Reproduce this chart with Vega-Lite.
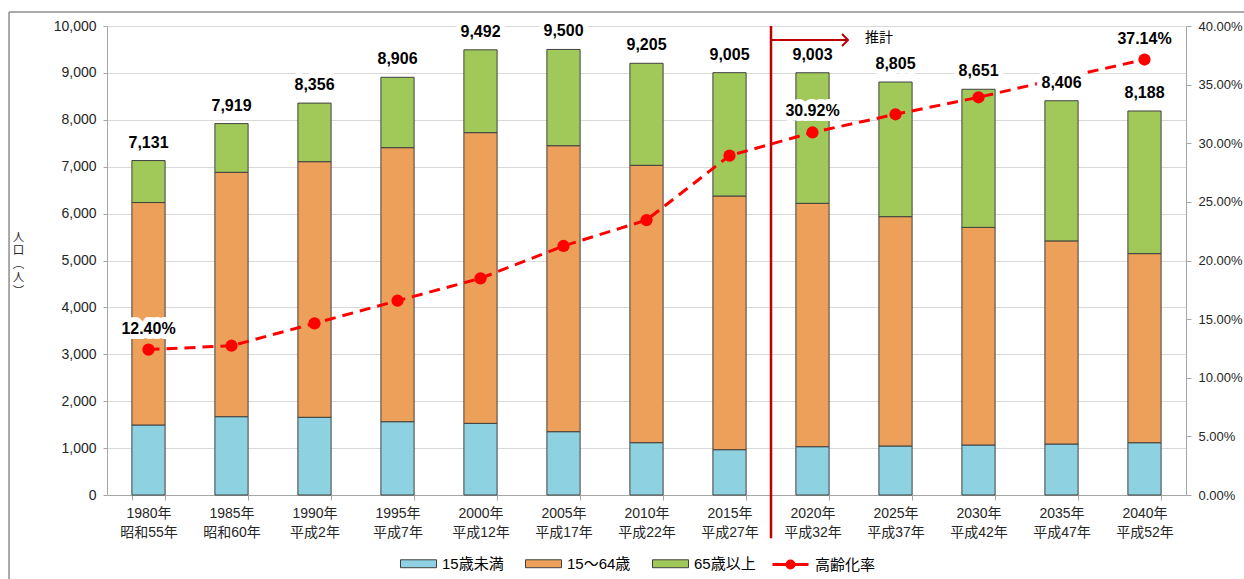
{
  "$schema": "https://vega.github.io/schema/vega-lite/v6.json",
  "width": 1079,
  "height": 469,
  "autosize": {"type": "none"},
  "padding": {"left": 107, "top": 26, "right": 58, "bottom": 84},
  "background": "white",
  "config": {
    "view": {"stroke": null},
    "font": "Liberation Sans, Noto Sans CJK JP",
    "axis": {"labelColor": "#262626", "labelFont": "Liberation Sans, Noto Sans CJK JP", "titleFont": "Noto Sans CJK JP"},
    "legend": {"labelFont": "Liberation Sans, Noto Sans CJK JP"}
  },
  "datasets": {
    "bars": [
      {"year": "1980年|昭和55年", "cat": "15歳未満", "value": 1493},
      {"year": "1980年|昭和55年", "cat": "15～64歳", "value": 4743},
      {"year": "1980年|昭和55年", "cat": "65歳以上", "value": 895},
      {"year": "1985年|昭和60年", "cat": "15歳未満", "value": 1670},
      {"year": "1985年|昭和60年", "cat": "15～64歳", "value": 5210},
      {"year": "1985年|昭和60年", "cat": "65歳以上", "value": 1039},
      {"year": "1990年|平成2年", "cat": "15歳未満", "value": 1657},
      {"year": "1990年|平成2年", "cat": "15～64歳", "value": 5450},
      {"year": "1990年|平成2年", "cat": "65歳以上", "value": 1249},
      {"year": "1995年|平成7年", "cat": "15歳未満", "value": 1563},
      {"year": "1995年|平成7年", "cat": "15～64歳", "value": 5843},
      {"year": "1995年|平成7年", "cat": "65歳以上", "value": 1500},
      {"year": "2000年|平成12年", "cat": "15歳未満", "value": 1528},
      {"year": "2000年|平成12年", "cat": "15～64歳", "value": 6198},
      {"year": "2000年|平成12年", "cat": "65歳以上", "value": 1766},
      {"year": "2005年|平成17年", "cat": "15歳未満", "value": 1350},
      {"year": "2005年|平成17年", "cat": "15～64歳", "value": 6098},
      {"year": "2005年|平成17年", "cat": "65歳以上", "value": 2052},
      {"year": "2010年|平成22年", "cat": "15歳未満", "value": 1116},
      {"year": "2010年|平成22年", "cat": "15～64歳", "value": 5914},
      {"year": "2010年|平成22年", "cat": "65歳以上", "value": 2175},
      {"year": "2015年|平成27年", "cat": "15歳未満", "value": 966},
      {"year": "2015年|平成27年", "cat": "15～64歳", "value": 5409},
      {"year": "2015年|平成27年", "cat": "65歳以上", "value": 2630},
      {"year": "2020年|平成32年", "cat": "15歳未満", "value": 1030},
      {"year": "2020年|平成32年", "cat": "15～64歳", "value": 5189},
      {"year": "2020年|平成32年", "cat": "65歳以上", "value": 2784},
      {"year": "2025年|平成37年", "cat": "15歳未満", "value": 1045},
      {"year": "2025年|平成37年", "cat": "15～64歳", "value": 4890},
      {"year": "2025年|平成37年", "cat": "65歳以上", "value": 2870},
      {"year": "2030年|平成42年", "cat": "15歳未満", "value": 1066},
      {"year": "2030年|平成42年", "cat": "15～64歳", "value": 4640},
      {"year": "2030年|平成42年", "cat": "65歳以上", "value": 2945},
      {"year": "2035年|平成47年", "cat": "15歳未満", "value": 1087},
      {"year": "2035年|平成47年", "cat": "15～64歳", "value": 4331},
      {"year": "2035年|平成47年", "cat": "65歳以上", "value": 2988},
      {"year": "2040年|平成52年", "cat": "15歳未満", "value": 1115},
      {"year": "2040年|平成52年", "cat": "15～64歳", "value": 4032},
      {"year": "2040年|平成52年", "cat": "65歳以上", "value": 3041}
    ],
    "rates": [
      {"year": "1980年|昭和55年", "total": 7131, "rate": 0.124, "labeled": true},
      {"year": "1985年|昭和60年", "total": 7919, "rate": 0.1273, "labeled": false},
      {"year": "1990年|平成2年", "total": 8356, "rate": 0.1464, "labeled": false},
      {"year": "1995年|平成7年", "total": 8906, "rate": 0.1657, "labeled": false},
      {"year": "2000年|平成12年", "total": 9492, "rate": 0.1848, "labeled": false},
      {"year": "2005年|平成17年", "total": 9500, "rate": 0.2124, "labeled": false},
      {"year": "2010年|平成22年", "total": 9205, "rate": 0.2345, "labeled": false},
      {"year": "2015年|平成27年", "total": 9005, "rate": 0.2894, "labeled": false},
      {"year": "2020年|平成32年", "total": 9003, "rate": 0.3092, "labeled": true},
      {"year": "2025年|平成37年", "total": 8805, "rate": 0.3247, "labeled": false},
      {"year": "2030年|平成42年", "total": 8651, "rate": 0.3392, "labeled": false},
      {"year": "2035年|平成47年", "total": 8406, "rate": 0.3555, "labeled": false},
      {"year": "2040年|平成52年", "total": 8188, "rate": 0.3714, "labeled": true}
    ]
  },
  "resolve": {"scale": {"y": "independent"}},
  "layer": [
    {
      "layer": [
        {
          "data": {"name": "bars"},
          "mark": {"type": "bar", "stroke": "#404040", "strokeWidth": 1},
          "encoding": {
            "x": {
              "field": "year", "type": "ordinal",
              "scale": {"paddingInner": 0.6, "paddingOuter": 0.3},
              "axis": {
                "title": null, "labelAngle": 0, "labelExpr": "datum.label ? split(datum.label, '|') : ''",
                "labelFontSize": 14, "labelLineHeight": 19, "labelPadding": 6,
                "tickBand": "extent", "tickSize": 5, "tickColor": "#A6A6A6", "domainColor": "#A6A6A6"
              }
            },
            "y": {
              "field": "value", "type": "quantitative",
              "scale": {"domain": [0, 10000], "nice": false},
              "axis": {
                "orient": "left", "tickCount": 10, "format": ",", "labelExpr": "format(datum.value, ',')",
                "title": ["人", "口", "︵", "人", "︶"], "titleAngle": 0, "titleFontSize": 11.5,
                "titleLineHeight": 13.5, "titleFontWeight": "normal", "titleAlign": "center", "titleBaseline": "middle",
                "titleX": -89, "titleY": 211, "titleColor": "#262626",
                "labelFontSize": 14, "labelPadding": 7, "tickSize": 4,
                "tickColor": "#A6A6A6", "domainColor": "#A6A6A6", "gridColor": "#D9D9D9", "grid": true
              }
            },
            "order": {"field": "cat", "type": "nominal", "sort": "ascending"},
            "color": {
              "field": "cat", "type": "nominal",
              "scale": {
                "domain": ["15歳未満", "15～64歳", "65歳以上"],
                "range": ["#8ED1E0", "#ECA05A", "#A0C95A"]
              },
              "legend": {
                "orient": "none", "legendX": 293, "legendY": 519, "direction": "horizontal",
                "title": null, "symbolSize": 1296, "symbolType": "M-1,-0.22H1V0.22H-1Z",
                "symbolStrokeColor": "#404040", "symbolStrokeWidth": 1,
                "labelFontSize": 15, "labelColor": "#000000",
                "columnPadding": 19, "labelOffset": 5
              }
            }
          }
        },
        {
          "data": {"values": [{}]},
          "mark": {"type": "rule", "stroke": "#C00000", "strokeWidth": 2.5},
          "encoding": {
            "x": {"datum": "2020年|平成32年", "type": "ordinal", "bandPosition": -0.75},
            "y": {"datum": 10000, "type": "quantitative", "scale": {"domain": [0, 10000], "nice": false}, "axis": {"format": ",", "labelExpr": "format(datum.value, ',')"}},
            "y2": {"datum": -920}
          }
        },
        {
          "data": {"values": [{}]},
          "mark": {"type": "rule", "stroke": "#C00000", "strokeWidth": 2},
          "encoding": {
            "x": {"datum": "2020年|平成32年", "type": "ordinal", "bandPosition": -0.75},
            "x2": {"datum": "2020年|平成32年", "bandPosition": 1.57},
            "y": {"datum": 9701, "type": "quantitative", "scale": {"domain": [0, 10000], "nice": false}, "axis": {"format": ",", "labelExpr": "format(datum.value, ',')"}}
          }
        },
        {
          "data": {"values": [{}]},
          "mark": {"type": "point", "shape": "M-1,-1L0,0L-1,1", "size": 144, "filled": false, "stroke": "#C00000", "strokeWidth": 2, "opacity": 1},
          "encoding": {
            "x": {"datum": "2020年|平成32年", "type": "ordinal", "bandPosition": 1.57},
            "y": {"datum": 9701, "type": "quantitative", "scale": {"domain": [0, 10000], "nice": false}, "axis": {"format": ",", "labelExpr": "format(datum.value, ',')"}}
          }
        },
        {
          "data": {"values": [{"t": "推計"}]},
          "mark": {"type": "text", "fontSize": 14, "font": "Noto Sans CJK JP", "align": "center", "baseline": "middle", "color": "#000000"},
          "encoding": {
            "x": {"datum": "2025年|平成37年", "type": "ordinal", "bandPosition": 0},
            "y": {"datum": 9744, "type": "quantitative", "scale": {"domain": [0, 10000], "nice": false}, "axis": {"format": ",", "labelExpr": "format(datum.value, ',')"}},
            "text": {"field": "t"}
          }
        },
        {
          "data": {"values": [{}]},
          "mark": {"type": "rule", "stroke": "#8C8C8C", "strokeWidth": 1.5},
          "encoding": {
            "x": {"datum": "1980年|昭和55年", "type": "ordinal", "bandPosition": -3.7},
            "x2": {"datum": "2040年|平成52年", "bandPosition": 3.6},
            "y": {"datum": 10299, "type": "quantitative", "scale": {"domain": [0, 10000], "nice": false}, "axis": {"format": ",", "labelExpr": "format(datum.value, ',')"}}
          }
        },
        {
          "data": {"values": [{}]},
          "mark": {"type": "rule", "stroke": "#8C8C8C", "strokeWidth": 1.5},
          "encoding": {
            "x": {"datum": "1980年|昭和55年", "type": "ordinal", "bandPosition": -3.7},
            "y": {"datum": 10299, "type": "quantitative", "scale": {"domain": [0, 10000], "nice": false}, "axis": {"format": ",", "labelExpr": "format(datum.value, ',')"}},
            "y2": {"datum": -1800}
          }
        }
      ]
    },
    {
      "data": {"name": "rates"},
      "layer": [
        {
          "mark": {"type": "line", "strokeDash": [11, 7], "strokeWidth": 3},
          "encoding": {
            "x": {"field": "year", "type": "ordinal"},
            "y": {
              "field": "rate", "type": "quantitative",
              "scale": {"domain": [0, 0.4], "nice": false},
              "axis": {
                "orient": "right", "format": ".2%", "tickCount": 8, "grid": false, "title": null,
                "labelFontSize": 13, "labelPadding": 7, "tickSize": 5,
                "tickColor": "#A6A6A6", "domainColor": "#A6A6A6"
              }
            },
            "stroke": {
              "datum": "高齢化率", "type": "nominal",
              "scale": {"domain": ["高齢化率"], "range": ["#FF0000"]},
              "legend": {
                "orient": "none", "legendX": 664, "legendY": 519, "direction": "horizontal",
                "title": null, "symbolSize": 1296,
                "symbolType": "M-1,0H1M0.194,0A0.194,0.194,0,1,1,-0.194,0A0.194,0.194,0,1,1,0.194,0M0.111,0A0.111,0.111,0,1,1,-0.111,0A0.111,0.111,0,1,1,0.111,0M0.04,0A0.04,0.04,0,1,1,-0.04,0A0.04,0.04,0,1,1,0.04,0",
                "symbolStrokeWidth": 3, "symbolFillColor": "#FF0000", "symbolDash": [],
                "labelFontSize": 15, "labelColor": "#000000", "labelOffset": 5
              }
            }
          }
        },
        {
          "mark": {"type": "point", "filled": true, "size": 150, "opacity": 1, "color": "#FF0000"},
          "encoding": {
            "x": {"field": "year", "type": "ordinal"},
            "y": {"field": "rate", "type": "quantitative", "scale": {"domain": [0, 0.4], "nice": false}}
          }
        },
        {
          "transform": [{"filter": "datum.labeled"}],
          "mark": {"type": "text", "fontSize": 16, "fontWeight": "bold", "dy": -21, "baseline": "middle", "align": "center", "fill": "white", "stroke": "white", "strokeWidth": 10, "strokeJoin": "round"},
          "encoding": {
            "x": {"field": "year", "type": "ordinal"},
            "y": {"field": "rate", "type": "quantitative", "scale": {"domain": [0, 0.4], "nice": false}},
            "text": {"field": "rate", "type": "quantitative", "format": ".2%"}
          }
        },
        {
          "transform": [{"filter": "datum.labeled"}],
          "mark": {"type": "text", "fontSize": 16, "fontWeight": "bold", "dy": -21, "baseline": "middle", "align": "center", "color": "#000000"},
          "encoding": {
            "x": {"field": "year", "type": "ordinal"},
            "y": {"field": "rate", "type": "quantitative", "scale": {"domain": [0, 0.4], "nice": false}},
            "text": {"field": "rate", "type": "quantitative", "format": ".2%"}
          }
        }
      ]
    },
    {
      "data": {"name": "rates"},
      "layer": [
        {
          "mark": {"type": "text", "fontSize": 16, "fontWeight": "bold", "dy": -18, "baseline": "middle", "align": "center", "fill": "white", "stroke": "white", "strokeWidth": 10, "strokeJoin": "round"},
          "encoding": {
            "x": {"field": "year", "type": "ordinal"},
            "y": {"field": "total", "type": "quantitative", "scale": {"domain": [0, 10000], "nice": false}, "axis": null},
            "text": {"field": "total", "type": "quantitative", "format": ","}
          }
        },
        {
          "mark": {"type": "text", "fontSize": 16, "fontWeight": "bold", "dy": -18, "baseline": "middle", "align": "center", "color": "#000000"},
          "encoding": {
            "x": {"field": "year", "type": "ordinal"},
            "y": {"field": "total", "type": "quantitative", "scale": {"domain": [0, 10000], "nice": false}, "axis": null},
            "text": {"field": "total", "type": "quantitative", "format": ","}
          }
        }
      ]
    }
  ]
}
